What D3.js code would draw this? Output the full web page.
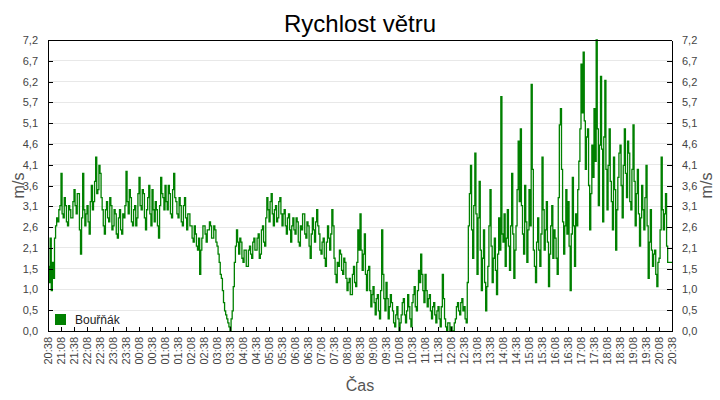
<!DOCTYPE html>
<html>
<head>
<meta charset="utf-8">
<script src="https://cdn.jsdelivr.net/npm/d3@7"></script>
<style>
  html, body { margin: 0; padding: 0; background: #fff; }
  svg { display: block; font-family: "Liberation Sans", Arial, sans-serif; }
</style>
</head>
<body>
<svg id="chart" width="720" height="400"></svg>
<script>
// ---- data ----
const title = "Rychlost větru";
const seriesName = "Bouřňák";
const xTitle = "Čas";
const yTitle = "m/s";
const stepMinutes = 2.5;
const totalMinutes = 1440;
const yMax = 7.2;

const xTickLabels = [
  "20:38","21:08","21:38","22:08","22:38","23:08","23:38","00:08","00:38","01:08",
  "01:38","02:08","02:38","03:08","03:38","04:08","04:38","05:08","05:38","06:08",
  "06:38","07:08","07:38","08:08","08:38","09:08","09:38","10:08","10:38","11:08",
  "11:38","12:08","12:38","13:08","13:38","14:08","14:38","15:08","15:38","16:08",
  "16:38","17:08","17:38","18:08","18:38","19:08","19:38","20:08","20:38"
];
const yTickLabels = ["0,0","0,5","1,0","1,5","2,1","2,6","3,1","3,6","4,1","4,6","5,1","5,7","6,2","6,7","7,2"];

// wind speed, m/s, one value every 2.5 minutes from 20:38 to 20:38 (12 values per half hour)
const windSpeed = [
  1.6, 1.2, 2.3, 1.0, 1.7, 1.3, 2.3, 2.6, 2.8, 2.7, 3.0, 3.1,
  3.9, 2.9, 2.8, 3.3, 3.1, 2.7, 2.6, 3.1, 3.0, 2.8, 2.8, 3.2,
  3.5, 3.1, 2.9, 3.4, 3.4, 2.5, 1.9, 2.8, 3.9, 3.0, 2.6, 2.9,
  3.1, 2.7, 2.4, 3.2, 3.6, 3.0, 3.2, 3.7, 4.3, 3.4, 3.5, 4.1,
  3.9, 3.3, 3.0, 2.6, 2.4, 3.0, 3.2, 2.8, 2.7, 3.3, 3.1, 2.5,
  2.6, 3.0, 2.9, 2.4, 2.3, 2.8, 3.0, 2.5, 2.4, 2.9, 2.8, 3.1,
  3.95, 3.2, 2.9, 3.5, 3.3, 2.7, 2.6, 3.0, 3.1, 2.6, 2.8, 3.4,
  3.8, 3.1, 3.0, 3.5, 3.4, 2.8, 2.5, 3.0, 3.3, 3.6, 2.9, 2.6,
  3.5, 3.0, 2.7, 3.2, 3.0, 2.6, 2.3, 3.1, 3.8, 3.4, 3.3, 3.0,
  3.6, 3.2, 3.0, 3.6, 3.4, 2.9, 2.8, 3.5, 3.9, 3.3, 3.2, 2.9,
  2.8, 3.3, 3.1, 2.7, 2.6, 3.1, 3.3, 2.8, 2.5, 2.9, 2.9, 2.6,
  2.6, 2.3, 2.2, 2.6, 2.4, 2.1, 2.0, 2.3, 1.4, 2.0, 2.3, 2.6,
  2.6, 2.4, 2.2, 2.5, 2.5, 2.7, 2.6, 2.3, 2.3, 2.6, 2.5, 2.2,
  2.1, 1.9, 1.7, 1.4, 1.3, 1.0, 0.7, 0.5, 0.4, 0.3, 0.2, 0.1,
  0.0, 0.3, 0.5, 1.1, 1.7, 2.1, 2.5, 2.2, 1.9, 2.3, 2.2, 1.8,
  1.7, 2.0, 2.0, 1.6, 1.6, 2.0, 2.1, 1.9, 1.8, 2.2, 2.3, 2.0,
  2.0, 2.3, 2.4, 1.8, 1.9, 2.5, 2.6, 2.2, 2.1, 2.8, 3.3, 3.0,
  2.7, 3.2, 3.4, 2.9, 2.6, 3.0, 3.1, 2.7, 2.8, 3.2, 3.3, 2.9,
  2.6, 2.9, 3.0, 2.6, 2.4, 2.8, 2.9, 2.5, 2.2, 2.6, 2.8, 2.5,
  2.4, 2.8, 2.7, 2.2, 2.1, 2.6, 2.5, 2.9, 2.9, 2.4, 2.3, 2.7,
  2.6, 2.1, 1.8, 2.4, 2.8, 2.5, 2.2, 2.7, 3.0, 2.6, 2.4, 2.0,
  1.9, 2.2, 2.3, 1.8, 1.6, 2.2, 2.6, 2.3, 2.0, 2.4, 3.0, 2.6,
  1.8, 1.4, 1.2, 1.7, 1.6, 2.0, 1.9, 1.5, 1.4, 1.8, 1.7, 1.3,
  1.0, 1.2, 1.3, 0.9, 0.9, 1.4, 1.6, 1.2, 1.1, 1.7, 2.5, 2.0,
  2.9, 2.0, 1.5, 1.9, 2.4, 1.4, 1.0, 1.5, 1.6, 1.0, 0.6, 0.9,
  1.1, 0.7, 0.4, 0.8, 0.9, 0.5, 0.3, 1.0, 2.5, 1.4, 0.8, 0.5,
  1.2, 0.8, 0.3, 0.6, 0.9, 0.7, 0.5, 0.2, 0.1, 0.4, 0.6, 0.3,
  0.0, 0.2, 0.4, 0.7, 0.8, 0.4, 0.2, 0.5, 0.9, 0.6, 0.3, 0.1,
  0.7, 0.9, 1.1, 0.6, 0.5, 1.0, 1.5, 1.2, 1.9, 1.4, 1.0, 0.7,
  1.4, 1.0, 0.6, 0.8, 0.9, 0.5, 0.3, 0.6, 0.7, 0.4, 0.2, 0.5,
  0.6, 0.3, 0.1, 0.6, 1.4, 0.8, 0.3, 0.1, 0.0, 0.2, 0.2, 0.0,
  0.1, 0.0, 0.0, 0.2, 0.3, 0.6, 0.7, 0.5, 0.4, 0.7, 0.8, 0.5,
  0.6, 0.3, 0.2, 1.2, 2.6, 3.4, 4.1, 2.5, 1.8, 3.1, 4.4, 2.9,
  1.4, 2.8, 3.7, 2.0, 1.0, 1.8, 2.5, 1.2, 0.5, 1.1, 1.6, 2.6,
  3.5, 2.1, 1.2, 1.8, 2.3, 1.5, 0.9, 1.9, 2.8, 2.0, 5.8, 2.4,
  2.2, 2.9, 1.6, 2.3, 3.0, 2.1, 1.5, 2.6, 3.9, 2.4, 1.3, 2.0,
  2.6, 3.5, 4.7, 3.2, 5.0, 3.1, 2.4, 1.9, 3.6, 2.7, 1.7, 2.5,
  3.5, 2.6, 6.1, 4.0, 2.0, 1.6, 1.2, 2.2, 2.8, 2.0, 1.6, 2.4,
  4.3, 3.0, 2.0, 2.5, 3.2, 2.2, 1.1, 1.9, 2.6, 3.1, 1.8, 2.5,
  2.3, 1.8, 1.4, 3.3, 5.1, 5.5, 4.0, 2.7, 1.9, 2.6, 3.5, 2.4,
  3.2, 2.1, 1.0, 2.4, 3.8, 2.6, 1.6, 2.9, 2.6, 3.5, 4.2, 5.0,
  6.6, 5.4, 6.9, 5.2, 4.0, 4.8, 5.0, 3.6, 2.5, 3.4, 4.6, 3.8,
  5.5, 4.2, 7.2, 5.0, 3.1, 4.6, 6.3, 4.5, 2.7, 4.8, 6.2, 4.0,
  3.0, 4.1, 5.0, 3.7, 3.2, 2.5, 4.3, 3.5, 2.0, 3.0, 3.8, 4.4,
  4.6, 3.6, 2.8, 4.1, 5.0, 3.9, 3.3, 4.7, 4.4, 3.2, 3.0, 4.0,
  5.1, 3.7, 2.6, 3.4, 4.0, 2.9, 2.1, 2.8, 3.6, 3.0, 2.5, 3.3,
  4.1, 2.6, 1.3, 2.2, 3.0, 2.0, 1.6, 1.9, 2.0, 1.4, 1.1, 1.7,
  1.8, 2.5, 4.3, 3.0, 2.5, 2.9, 3.4, 2.1, 1.7, 1.7, 1.7, 1.7,
  1.7
];

// ---- layout ----
const margin = { left: 48, right: 48, top: 40, bottom: 69 };
const W = 720, H = 400;
const x0 = margin.left, x1 = W - margin.right, y0 = margin.top, y1 = H - margin.bottom;

const svg = d3.select("#chart");

const x = d3.scaleLinear().domain([0, totalMinutes]).range([x0, x1]);
const y = d3.scaleLinear().domain([0, yMax]).range([y1, y0]);

const yTickVals = yTickLabels.map((_, i) => yMax * i / (yTickLabels.length - 1));
const xTickVals = xTickLabels.map((_, i) => totalMinutes * i / (xTickLabels.length - 1));

// grid
svg.append("g")
  .selectAll("line")
  .data(yTickVals.slice(1, -1))
  .join("line")
  .attr("x1", x0).attr("x2", x1)
  .attr("y1", d => y(d)).attr("y2", d => y(d))
  .attr("stroke", "#e8e8e8").attr("stroke-width", 1)
  .attr("shape-rendering", "crispEdges");

// line
const data = windSpeed.map((v, i) => ({ t: i * stepMinutes, v }));
const line = d3.line().x(d => x(d.t)).y(d => y(d.v)).curve(d3.curveStepAfter);
svg.append("path")
  .datum(data)
  .attr("d", line)
  .attr("fill", "none")
  .attr("stroke", "#008000")
  .attr("stroke-width", 1.3);

// axes
const fmtY = (d, i) => yTickLabels[i];
const leftAxis = d3.axisLeft(y).tickValues(yTickVals).tickFormat(fmtY).tickSizeInner(-5).tickSizeOuter(0).tickPadding(10);
const rightAxis = d3.axisRight(y).tickValues(yTickVals).tickFormat(fmtY).tickSizeInner(-5).tickSizeOuter(0).tickPadding(10);
const bottomAxis = d3.axisBottom(x).tickValues(xTickVals).tickFormat((d, i) => xTickLabels[i]).tickSizeInner(-4).tickSizeOuter(0);

function styleAxis(g) {
  g.select(".domain").attr("stroke", "#000").attr("shape-rendering", "crispEdges");
  g.selectAll(".tick line").attr("stroke", "#000").attr("shape-rendering", "crispEdges");
  g.selectAll(".tick text").attr("fill", "#444").style("font-size", "11px").style("font-family", "'Liberation Sans', Arial, sans-serif");
}

svg.append("g").attr("transform", `translate(${x0},0)`).call(leftAxis).call(styleAxis);
svg.append("g").attr("transform", `translate(${x1},0)`).call(rightAxis).call(styleAxis);
const gx = svg.append("g").attr("transform", `translate(0,${y1})`).call(bottomAxis).call(styleAxis);
gx.selectAll(".tick text")
  .attr("transform", "rotate(-90)")
  .attr("text-anchor", "end")
  .attr("x", -6)
  .attr("y", 0)
  .attr("dy", "0.35em");

// top border
svg.append("line").attr("x1", x0).attr("x2", x1).attr("y1", y0).attr("y2", y0)
  .attr("stroke", "#000").attr("shape-rendering", "crispEdges");

// title
svg.append("text").attr("x", (x0 + x1) / 2).attr("y", 32)
  .attr("text-anchor", "middle").attr("fill", "#000")
  .style("font-size", "24px").text(title);

// axis titles
svg.append("text").attr("x", (x0 + x1) / 2).attr("y", 391)
  .attr("text-anchor", "middle").attr("fill", "#555")
  .style("font-size", "16px").text(xTitle);
svg.append("text").attr("transform", `translate(24,${(y0 + y1) / 2}) rotate(-90)`)
  .attr("text-anchor", "middle").attr("fill", "#555")
  .style("font-size", "16px").text(yTitle);
svg.append("text").attr("transform", `translate(712,${(y0 + y1) / 2}) rotate(-90)`)
  .attr("text-anchor", "middle").attr("fill", "#555")
  .style("font-size", "16px").text(yTitle);

// legend
svg.append("rect").attr("x", 55).attr("y", 314).attr("width", 11).attr("height", 11).attr("fill", "#008000");
svg.append("text").attr("x", 75).attr("y", 324).attr("fill", "#222")
  .style("font-size", "12px").text(seriesName);
</script>
</body>
</html>
